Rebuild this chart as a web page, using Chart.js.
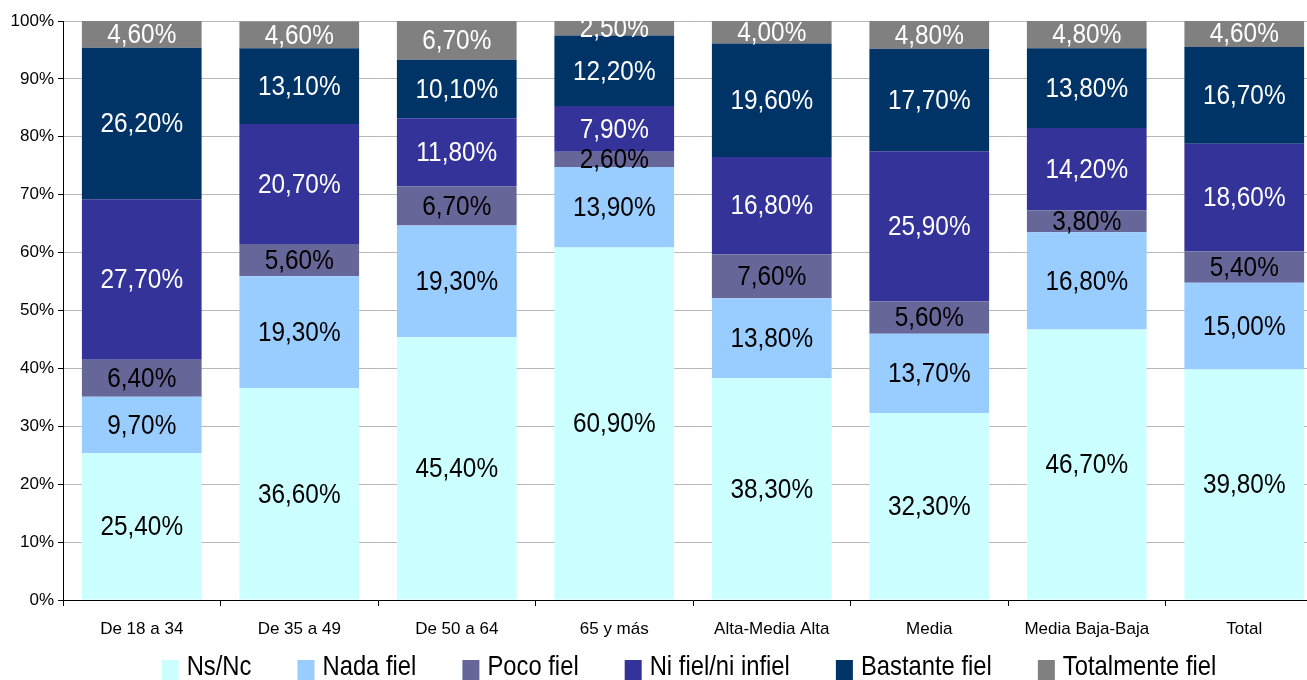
<!DOCTYPE html>
<html>
<head>
<meta charset="utf-8">
<script src="https://cdn.jsdelivr.net/npm/chart.js@4.4.1/dist/chart.umd.min.js"></script>
<style>
  html, body { margin: 0; padding: 0; background: #fff; overflow: hidden; }
</style>
</head>
<body>
<!-- the plot runs past the right edge of the window in the original, so the canvas is a bit wider -->
<canvas id="chart" width="1323" height="680"></canvas>
<script>
const categories = ["De 18 a 34", "De 35 a 49", "De 50 a 64", "65 y más", "Alta-Media Alta", "Media", "Media Baja-Baja", "Total"];
const seriesNames = ["Ns/Nc", "Nada fiel", "Poco fiel", "Ni fiel/ni infiel", "Bastante fiel", "Totalmente fiel"];
const nsNc = [25.4, 36.6, 45.4, 60.9, 38.3, 32.3, 46.7, 39.8];
const nadaFiel = [9.7, 19.3, 19.3, 13.9, 13.8, 13.7, 16.8, 15.0];
const pocoFiel = [6.4, 5.6, 6.7, 2.6, 7.6, 5.6, 3.8, 5.4];
const niFiel = [27.7, 20.7, 11.8, 7.9, 16.8, 25.9, 14.2, 18.6];
const bastanteFiel = [26.2, 13.1, 10.1, 12.2, 19.6, 17.7, 13.8, 16.7];
const totalmenteFiel = [4.6, 4.6, 6.7, 2.5, 4.0, 4.8, 4.8, 4.6];
const yTicks = [0, 10, 20, 30, 40, 50, 60, 70, 80, 90, 100];

const colors = ["#CCFFFF", "#99CCFF", "#666699", "#333399", "#003366", "#808080"];
const labelColors = ["#000", "#000", "#000", "#fff", "#fff", "#fff"];
const sans = '"Liberation Sans", Arial, sans-serif';

const allSeries = [nsNc, nadaFiel, pocoFiel, niFiel, bastanteFiel, totalmenteFiel];

// draw text squeezed horizontally (the original uses a narrow face)
function narrowText(ctx, text, x, y, sx) {
  ctx.save();
  ctx.translate(x, y);
  ctx.scale(sx, 1);
  ctx.fillText(text, 0, 0);
  ctx.restore();
}

// value labels centred in each segment, clipped to the plot
const segmentLabels = {
  id: "segmentLabels",
  afterDatasetsDraw(chart) {
    const ctx = chart.ctx;
    const area = chart.chartArea;
    ctx.save();
    ctx.beginPath();
    ctx.rect(area.left, area.top, area.right - area.left, area.bottom - area.top);
    ctx.clip();
    ctx.font = "28px " + sans;
    ctx.textAlign = "center";
    ctx.textBaseline = "middle";
    chart.data.datasets.forEach((ds, i) => {
      chart.getDatasetMeta(i).data.forEach((bar, j) => {
        const p = bar.getProps(["x", "y", "base"], true);
        ctx.fillStyle = labelColors[i];
        narrowText(ctx, ds.data[j].toFixed(2).replace(".", ",") + "%", p.x, (p.y + p.base) / 2 + 1, 0.87);
      });
    });
    ctx.restore();
  }
};

// legend along the bottom edge
const bottomLegend = {
  id: "bottomLegend",
  afterDraw(chart) {
    const ctx = chart.ctx;
    const sx = 0.85;
    ctx.save();
    ctx.font = "28px " + sans;
    ctx.textBaseline = "middle";
    const gap = 46;
    const widths = seriesNames.map(n => 25 + ctx.measureText(n).width * sx);
    const total = widths.reduce((a, b) => a + b, 0) + gap * (seriesNames.length - 1);
    let x = 689 - total / 2;
    seriesNames.forEach((n, i) => {
      ctx.fillStyle = colors[i];
      ctx.fillRect(x, 660, 17, 24);
      ctx.fillStyle = "#000";
      narrowText(ctx, n, x + 25, 667, sx);
      x += widths[i] + gap;
    });
    ctx.restore();
  }
};

new Chart(document.getElementById("chart"), {
  type: "bar",
  data: {
    labels: categories,
    datasets: allSeries.map((d, i) => ({
      label: seriesNames[i],
      data: d,
      backgroundColor: colors[i],
      borderWidth: 0,
      categoryPercentage: 1,
      barPercentage: 0.76
    }))
  },
  options: {
    responsive: false,
    animation: false,
    layout: { padding: { top: 21, right: 0, bottom: 0, left: 0 } },
    plugins: {
      legend: { display: false },
      tooltip: { enabled: false }
    },
    scales: {
      x: {
        stacked: true,
        afterFit: s => { s.height = 80; },
        border: { color: "#000", width: 1 },
        grid: { drawOnChartArea: false, offset: true, color: "#000", tickLength: 6 },
        ticks: { color: "#000", font: { family: sans, size: 17 }, padding: 13, maxRotation: 0, autoSkip: false }
      },
      y: {
        stacked: true,
        min: 0,
        max: 100,
        afterFit: s => { s.width = 63; },
        afterBuildTicks: s => { s.ticks = yTicks.map(v => ({ value: v })); },
        border: { color: "#000", width: 1 },
        grid: { color: "#b8b8b8", tickColor: "#000", tickLength: 5 },
        ticks: { color: "#000", font: { family: sans, size: 17 }, padding: 4, callback: v => v + "%" }
      }
    }
  },
  plugins: [segmentLabels, bottomLegend]
});
</script>
</body>
</html>
